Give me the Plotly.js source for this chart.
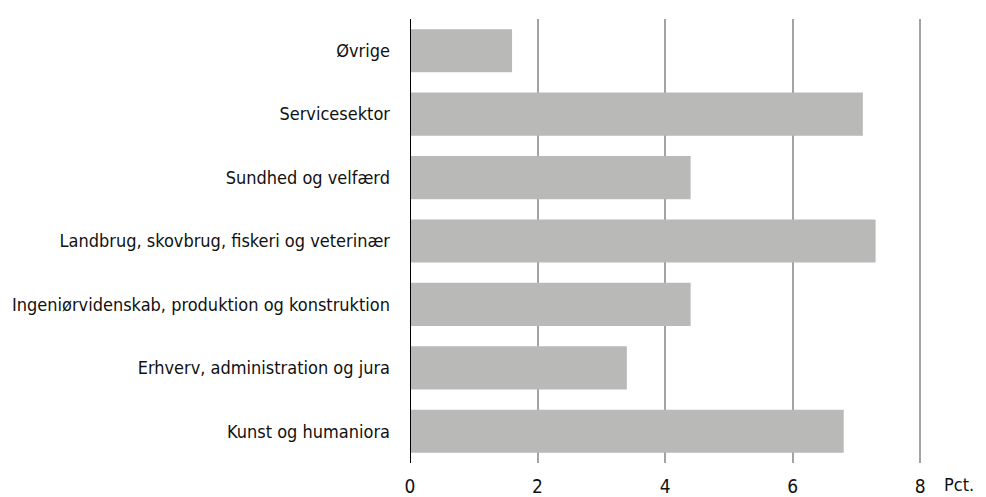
<!DOCTYPE html>
<html>
<head>
<meta charset="utf-8">
<script src="https://cdn.plot.ly/plotly-3.0.1.min.js"></script>
<style>
  body { margin: 0; background: #fff; }
  #chart { width: 986px; height: 497px; }
</style>
</head>
<body>
<div id="chart"></div>
<script>
// Categories from bottom to top
var fields = [
  "Kunst og humaniora",
  "Erhverv, administration og jura",
  "Ingeniørvidenskab, produktion og konstruktion",
  "Landbrug, skovbrug, fiskeri og veterinær",
  "Sundhed og velfærd",
  "Servicesektor",
  "Øvrige"
];
var shares = [6.8, 3.4, 4.4, 7.3, 4.4, 7.1, 1.6];
var xTicks = [0, 2, 4, 6, 8];

var font = "'Liberation Sans Narrow', 'DejaVu Sans Condensed', 'Roboto Condensed', sans-serif";

var trace = {
  x: shares,
  y: fields,
  type: "bar",
  orientation: "h",
  marker: { color: "#b9bab7" },
  hoverinfo: "x+y"
};

var layout = {
  width: 986,
  height: 497,
  margin: { l: 410, r: 53, t: 19, b: 34 },
  paper_bgcolor: "#fff",
  plot_bgcolor: "#fff",
  bargap: 0.32,
  showlegend: false,
  font: { family: font, size: 18, color: "#111" },
  xaxis: {
    range: [0, 8.2],
    tickvals: xTicks,
    ticks: "",
    ticklabelstandoff: 10,
    tickfont: { size: 19 },
    showgrid: true,
    gridcolor: "#a3a3a3",
    gridwidth: 2,
    zeroline: false,
    showline: false,
    fixedrange: true
  },
  yaxis: {
    ticks: "",
    ticklabelstandoff: 19,
    showgrid: false,
    zeroline: false,
    showline: false,
    fixedrange: true
  },
  shapes: [{
    type: "line", xref: "x", yref: "paper",
    x0: 0, x1: 0, y0: 0, y1: 1,
    line: { color: "#000", width: 2 }
  }],
  annotations: [{
    text: "Pct.",
    xref: "paper", yref: "paper",
    x: 1.049, y: 0,
    xanchor: "center", yanchor: "top",
    yshift: -9,
    showarrow: false,
    font: { family: font, size: 18, color: "#111" }
  }]
};

Plotly.newPlot("chart", [trace], layout, { displayModeBar: false, staticPlot: true });
</script>
</body>
</html>
